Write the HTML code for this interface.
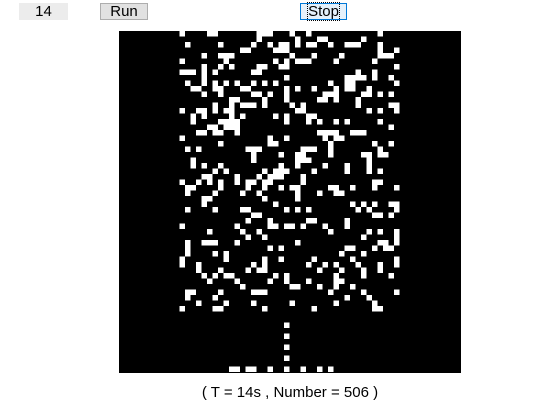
<!DOCTYPE html>
<html><head><meta charset="utf-8"><style>
body{margin:0;width:560px;height:420px;background:#fff;position:relative;overflow:hidden;font-family:"Liberation Sans",sans-serif}
#inp{position:absolute;left:19px;top:3px;width:49px;height:17px;background:#ececec;font-size:15px;text-align:center;line-height:17px}
.btn{position:absolute;top:3px;height:15px;background:#e1e1e1;border:1px solid #adadad;font-size:15px;line-height:15px;text-align:center}
#run{left:100px;width:46px}
#stop{left:300px;width:45px;border-color:#0078d7;background:#e5f1fb}
#stop span{outline:1px dotted #000}
#grid{position:absolute;left:119px;top:31px}
#stat{position:absolute;left:0;width:580px;top:384px;text-align:center;font-size:15px}
</style></head><body>
<div id="inp">14</div>
<div id="run" class="btn">Run</div>
<div id="stop" class="btn"><span>Stop</span></div>
<svg id="grid" width="342" height="342">
<rect width="342" height="342" fill="#000"/>
<g id="cells"></g>
</svg>
<div id="stat">( T = 14s , Number = 506 )</div>
<script>
const cellSize=[5.5];
const activeCols=[11,50];
const activeRows=[0,50];
const extraCells=[[30,53],[30,55],[30,57],[30,59],[20,61],[21,61],[23,61],[24,61],[27,61],[30,61],[33,61],[36,61],[38,61]];
let seed=987654321;
function rnd(){seed^=seed<<13;seed^=seed>>>17;seed^=seed<<5;return ((seed>>>0)%100000)/100000;}
const g=document.getElementById('cells');
function add(c,r){
  const el=document.createElementNS('http://www.w3.org/2000/svg','rect');
  el.setAttribute('x',c*cellSize[0]);el.setAttribute('y',r*cellSize[0]);
  el.setAttribute('width',cellSize[0]);el.setAttribute('height',cellSize[0]);
  el.setAttribute('fill','#fff');
  
  
  g.appendChild(el);
}
for(let r=activeRows[0];r<=activeRows[1];r++){
  for(let c=activeCols[0];c<=activeCols[1];c++){
    const d=0.24-0.06*(r/activeRows[1]);
    if(rnd()<d)add(c,r);
  }
}
extraCells.forEach(p=>add(p[0],p[1]));
</script>
</body></html>
